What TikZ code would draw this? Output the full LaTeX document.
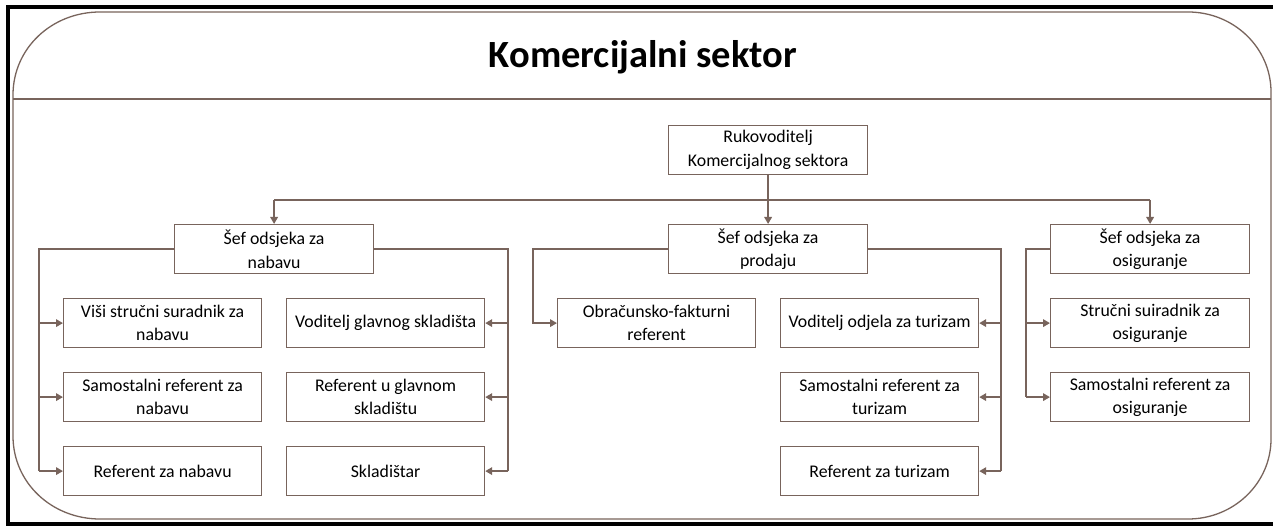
\documentclass[tikz,border=0pt]{standalone}
\usepackage{fontspec}
\setmainfont{Carlito}
\usetikzlibrary{arrows.meta}
\definecolor{edge}{RGB}{120,100,92}
\begin{document}
\begin{tikzpicture}[x=1pt,y=-1pt,
  box/.style={draw=edge, line width=1.2pt, fill=white, minimum width=198pt,
    minimum height=49pt, inner sep=0pt, align=center, anchor=north west,
    font=\fontsize{17.8}{23.5}\selectfont},
  link/.style={draw=edge, line width=1.8pt},
  arr/.style={link, -{Triangle[length=7pt,width=7.5pt]}}]
\useasboundingbox (0,0) rectangle (1273,526);

% outer frame and title panel
\fill[white] (0,0) rectangle (1273,526);
\draw[black, line width=4.5pt] (1280,7) -- (8,7) -- (8,524) -- (1280,524);
\draw[edge, line width=1.3pt]
  (100,12) -- (1188,12) .. controls (1234,12) and (1271,48) .. (1271,92)
  -- (1271,439) .. controls (1271,483) and (1234,519) .. (1188,519)
  -- (100,519) .. controls (52,519) and (13,483) .. (13,436)
  -- (13,95) .. controls (13,48) and (52,12) .. (100,12) -- cycle;
\draw[edge, line width=1.3pt] (13,99) -- (1271,99);
\node[anchor=base, font=\fontsize{38.5}{44}\selectfont\bfseries] (title) at (643,68) {Komercijalni sektor};

% boxes
\node[box, minimum width=199pt] (boss) at (668,125) {Rukovoditelj\\Komercijalnog sektora};
\node[box, minimum width=199pt] (sefN) at (174,224) {Šef odsjeka za\\nabavu};
\node[box, minimum width=199pt] (sefP) at (668,224) {Šef odsjeka za\\prodaju};
\node[box, minimum width=199pt] (sefO) at (1050,224) {Šef odsjeka za\\osiguranje};

\node[box] (n1) at (63,298) {Viši stručni suradnik za\\nabavu};
\node[box] (n2) at (63,372) {Samostalni referent za\\nabavu};
\node[box] (n3) at (63,446) {Referent za nabavu};

\node[box] (s1) at (286,298) {Voditelj glavnog skladišta};
\node[box] (s2) at (286,372) {Referent u glavnom\\skladištu};
\node[box] (s3) at (286,446) {Skladištar};

\node[box] (p1) at (557,298) {Obračunsko-fakturni\\referent};

\node[box] (t1) at (780,298) {Voditelj odjela za turizam};
\node[box] (t2) at (780,372) {Samostalni referent za\\turizam};
\node[box] (t3) at (780,446) {Referent za turizam};

\node[box, minimum width=199pt] (o1) at (1050,298) {Stručni suiradnik za\\osiguranje};
\node[box, minimum width=199pt] (o2) at (1050,372) {Samostalni referent za\\osiguranje};

% bus lines
\coordinate (bus) at (0,200);
\coordinate (xa) at (39,0);
\coordinate (xb) at (508,0);
\coordinate (xc) at (533,0);
\coordinate (xd) at (1001,0);
\coordinate (xe) at (1026,0);

\draw[link] (sefN.north |- bus) -- (sefO.north |- bus);
\draw[arr] (sefN.north |- bus) -- (sefN.north);
\draw[arr] (boss.south) -- (sefP.north);
\draw[arr] (sefO.north |- bus) -- (sefO.north);

% nabava, left
\draw[link] (sefN.west) -- (sefN.west -| xa) -- (xa |- n3.west);
\foreach \b in {n1,n2,n3} \draw[arr] (xa |- \b.west) -- (\b.west);
% nabava, right
\draw[link] (sefN.east) -- (sefN.east -| xb) -- (xb |- s3.east);
\foreach \b in {s1,s2,s3} \draw[arr] (xb |- \b.east) -- (\b.east);
% prodaja
\draw[arr] (sefP.west) -- (sefP.west -| xc) -- (xc |- p1.west) -- (p1.west);
\draw[link] (sefP.east) -- (sefP.east -| xd) -- (xd |- t3.east);
\foreach \b in {t1,t2,t3} \draw[arr] (xd |- \b.east) -- (\b.east);
% osiguranje
\draw[link] (sefO.west) -- (sefO.west -| xe) -- (xe |- o2.west);
\foreach \b in {o1,o2} \draw[arr] (xe |- \b.west) -- (\b.west);
\end{tikzpicture}
\end{document}
